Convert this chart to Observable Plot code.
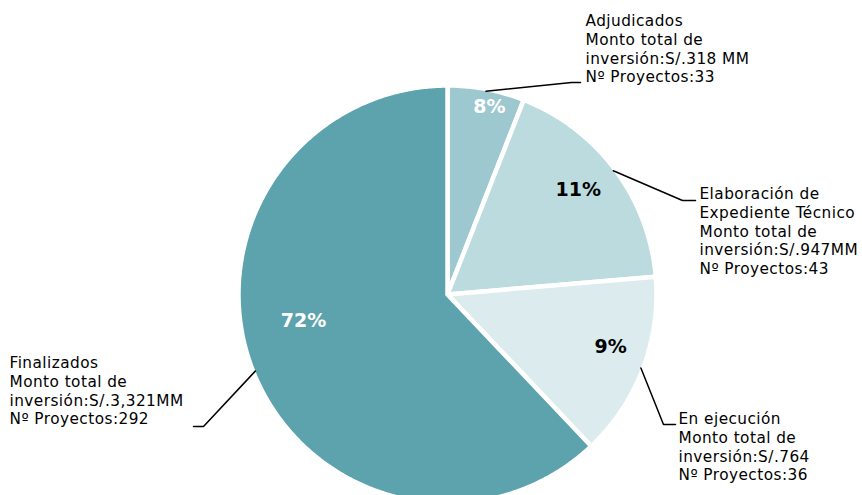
<!DOCTYPE html>
<html><head><meta charset="utf-8">
<script src="https://cdn.jsdelivr.net/npm/d3@7"></script>
<script src="https://cdn.jsdelivr.net/npm/@observablehq/plot@0.6"></script>
<style>html,body{margin:0;padding:0;background:#fff;overflow:hidden}</style>
</head><body><div id="chart"></div>
<script>
// ---- data ----
const categories = ["Adjudicados", "Elaboración de Expediente Técnico", "En ejecución", "Finalizados"];
const investment = [318, 947, 764, 3321];           // S/. MM (slice size)
const projects = [33, 43, 36, 292];                  // Nº Proyectos (percent label)
const nameLines = ["Adjudicados", "Elaboración de\nExpediente Técnico", "En ejecución", "Finalizados"];
const amountLabels = ["S/.318 MM", "S/.947MM", "S/.764", "S/.3,321MM"];

// ---- styles / layout ----
const colors = ["#9dc8cf", "#bcdbdf", "#dcebee", "#5ca3ad"];
const pctColors = ["#ffffff", "#000000", "#000000", "#ffffff"];
const W = 862, H = 495, CX = 447, CY = 294, R = 209;
const toData = ([px, py]) => [(px - CX) / R, (CY - py) / R];
// leader elbow and end points (px), label block top-left (px), percent label polar position
const leaderLayout = [
  [[571, 82], [580, 82]],
  [[682, 200], [695, 200]],
  [[663, 424], [675, 424]],
  [[203, 426], [193, 426]]
];
const textLayout = [[585, 12.5], [699, 185.5], [678, 410.5], [9, 354.5]];
const pctLayout = [[12.6, 0.92], [51.4, 0.80], [107.9, 0.82], [259.6, 0.70]];

const total = d3.sum(projects);
const rows = categories.map((c, i) => ({
  category: c,
  investment: investment[i],
  projects: projects[i],
  pct: Math.round(projects[i] / total * 100) + "%",
  label: `${nameLines[i]}\nMonto total de\ninversión:${amountLabels[i]}\nNº Proyectos:${projects[i]}`
}));

const arcs = d3.pie().sort(null).value(d => d.investment)(rows);

// slice polygons
const slicePts = [];
arcs.forEach(a => {
  const c = a.data.category;
  slicePts.push({category: c, x: 0, y: 0});
  const n = Math.max(2, Math.ceil((a.endAngle - a.startAngle) / (Math.PI / 360)));
  for (let k = 0; k <= n; k++) {
    const t = a.startAngle + (a.endAngle - a.startAngle) * k / n;
    slicePts.push({category: c, x: Math.sin(t), y: Math.cos(t)});
  }
  slicePts.push({category: c, x: 0, y: 0});
});

// leader lines
const leaderPts = [];
arcs.forEach((a, i) => {
  const m = (a.startAngle + a.endAngle) / 2;
  const r0 = 0.99;
  leaderPts.push({category: a.data.category, x: r0 * Math.sin(m), y: r0 * Math.cos(m)});
  leaderLayout[i].forEach(p => {
    const [x, y] = toData(p);
    leaderPts.push({category: a.data.category, x, y});
  });
});

const labelData = rows.map((d, i) => {
  const [x, y] = toData(textLayout[i]);
  return {...d, x, y};
});
const pctData = rows.map((d, i) => {
  const ang = pctLayout[i][0] * Math.PI / 180, r = pctLayout[i][1];
  return {...d, x: r * Math.sin(ang), y: r * Math.cos(ang), color: pctColors[i]};
});

const chart = Plot.plot({
  width: W, height: H, margin: 0,
  x: {domain: [-1, 1], range: [CX - R, CX + R], axis: null},
  y: {domain: [-1, 1], range: [CY + R, CY - R], axis: null},
  color: {domain: categories, range: colors},
  style: {fontFamily: "'DejaVu Sans', Verdana, sans-serif", background: "#fff", overflow: "hidden"},
  marks: [
    Plot.line(slicePts, {x: "x", y: "y", z: "category", fill: "category", stroke: "white", strokeWidth: 4.5, strokeLinejoin: "round"}),
    Plot.line(leaderPts, {x: "x", y: "y", z: "category", stroke: "black", strokeWidth: 1.5}),
    Plot.text(pctData, {x: "x", y: "y", text: "pct", fill: "color", fontSize: 19, fontWeight: "bold", textAnchor: "middle", lineAnchor: "middle"}),
    Plot.text(labelData, {x: "x", y: "y", text: "label", textAnchor: "start", lineAnchor: "top", fontSize: 15.3, lineHeight: 1.22, fill: "#000"})
  ]
});
const textGroups = chart.querySelectorAll('g[aria-label="text"]');
textGroups[textGroups.length - 1].style.letterSpacing = "0.45px";
document.getElementById("chart").append(chart);
</script>
</body></html>
